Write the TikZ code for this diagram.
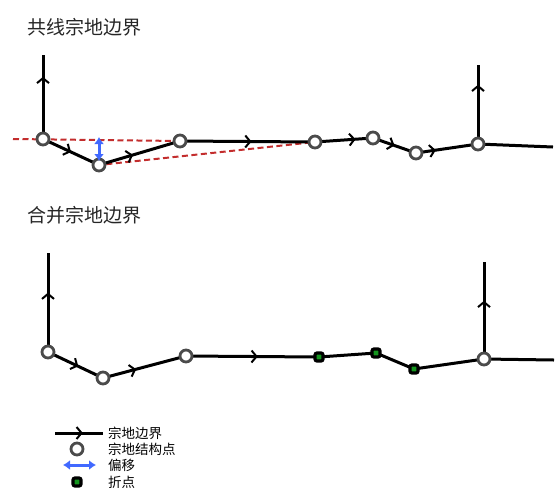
\documentclass[tikz,border=0pt]{standalone}
\usepackage{fontspec}
\setmainfont{Noto Sans CJK SC}
\usetikzlibrary{arrows.meta,decorations.markings,backgrounds}
\definecolor{rdc}{RGB}{195,45,45}
\definecolor{blc}{RGB}{65,105,255}
\definecolor{grc}{RGB}{20,150,30}
\definecolor{gyc}{RGB}{75,75,75}
\begin{document}
\begin{tikzpicture}[x=1pt,y=-1pt,
 bd/.style={line width=3pt,black},
 marr/.style={postaction={decorate,decoration={markings,mark=at position #1 with {\arrow{Straight Barb[length=5pt,width=12pt,line width=2pt]}}}}},
 sp/.style={circle,draw=gyc,fill=white,line width=2.8pt,minimum size=12pt,inner sep=0pt},
 bp/.style={rectangle,rounded corners=2pt,draw=black,fill=grc,line width=3.2pt,minimum size=8pt,inner sep=0pt},
 rd/.style={draw=rdc,line width=2pt,dash pattern=on 6pt off 3.5pt},
 offs/.style={line width=3pt,draw=blc,{Latex[length=7pt,width=10pt]}-{Latex[length=7pt,width=10pt]}},
 ttl/.style={font=\fontsize{19}{22}\selectfont,anchor=west,inner sep=0pt,text=black!85},
 lg/.style={font=\fontsize{13.5}{15}\selectfont,anchor=west,inner sep=0pt}]
\useasboundingbox (0,0) rectangle (559,501);

% titles
\node[ttl] (t1) at (27,27) {共线宗地边界};
\node[ttl] (t2) at (27,215) {合并宗地边界};

% top diagram
\node[sp] (a) at (43,139) {};
\node[sp] (b) at (99,165) {};
\node[sp] (c) at (180,141) {};
\node[sp] (d) at (315,142) {};
\node[sp] (e) at (373,138) {};
\node[sp] (f) at (416,153) {};
\node[sp] (g) at (478,144) {};
\coordinate (atop) at (43,55);
\coordinate (gtop) at (478,65);
\coordinate (gend) at (553,147);
\coordinate (rs) at (13,139);
\coordinate (ot) at (99,137);
\coordinate (ob) at (99,161);

\begin{scope}[on background layer]
\draw[rd] (rs) -- (c.center);
\draw[rd] (b) -- (d.center);
\draw[bd,marr=0.74] (a.center) -- (atop);
\draw[bd,marr=0.5] (a.center) -- (b.center);
\draw[bd,marr=0.42] (b.center) -- (c.center);
\draw[bd,marr=0.53] (c.center) -- (d.center);
\draw[bd,marr=0.7] (d.center) -- (e.center);
\draw[bd,marr=0.5] (e.center) -- (f.center);
\draw[bd,marr=0.32] (f.center) -- (g.center);
\draw[bd,marr=0.75] (g.center) -- (gtop);
\draw[bd] (g.center) -- (gend);
\end{scope}
\draw[offs] (ot) -- (ob);

% bottom diagram
\node[sp] (a2) at (48,352) {};
\node[sp] (b2) at (103,378) {};
\node[sp] (c2) at (186,356) {};
\node[bp] (p1) at (319,357) {};
\node[bp] (p2) at (376,353) {};
\node[bp] (p3) at (414,369) {};
\node[sp] (g2) at (484,359) {};
\coordinate (a2top) at (48,253);
\coordinate (g2top) at (484,262);
\coordinate (g2end) at (554,360);

\begin{scope}[on background layer]
\draw[bd,marr=0.6] (a2.center) -- (a2top);
\draw[bd,marr=0.55] (a2.center) -- (b2.center);
\draw[bd,marr=0.4] (b2.center) -- (c2.center);
\draw[bd,marr=0.54] (c2.center) -- (p1.center);
\draw[bd] (p1.center) -- (p2.center);
\draw[bd] (p2.center) -- (p3.center);
\draw[bd] (p3.center) -- (g2.center);
\draw[bd,marr=0.6] (g2.center) -- (g2top);
\draw[bd] (g2.center) -- (g2end);
\end{scope}

% legend
\coordinate (l1s) at (55,433);
\coordinate (l1e) at (103,433);
\draw[bd,marr=0.58] (l1s) -- (l1e);
\node[lg] (lt1) at (108,433) {宗地边界};
\node[sp] (lc) at (77,449) {};
\node[lg] (lt2) at (108,449) {宗地结构点};
\coordinate (l3s) at (63,465);
\coordinate (l3e) at (96,465);
\draw[offs] (l3s) -- (l3e);
\node[lg] (lt3) at (108,465) {偏移};
\node[bp] (lp) at (77,482) {};
\node[lg] (lt4) at (108,482) {折点};
\end{tikzpicture}
\end{document}
